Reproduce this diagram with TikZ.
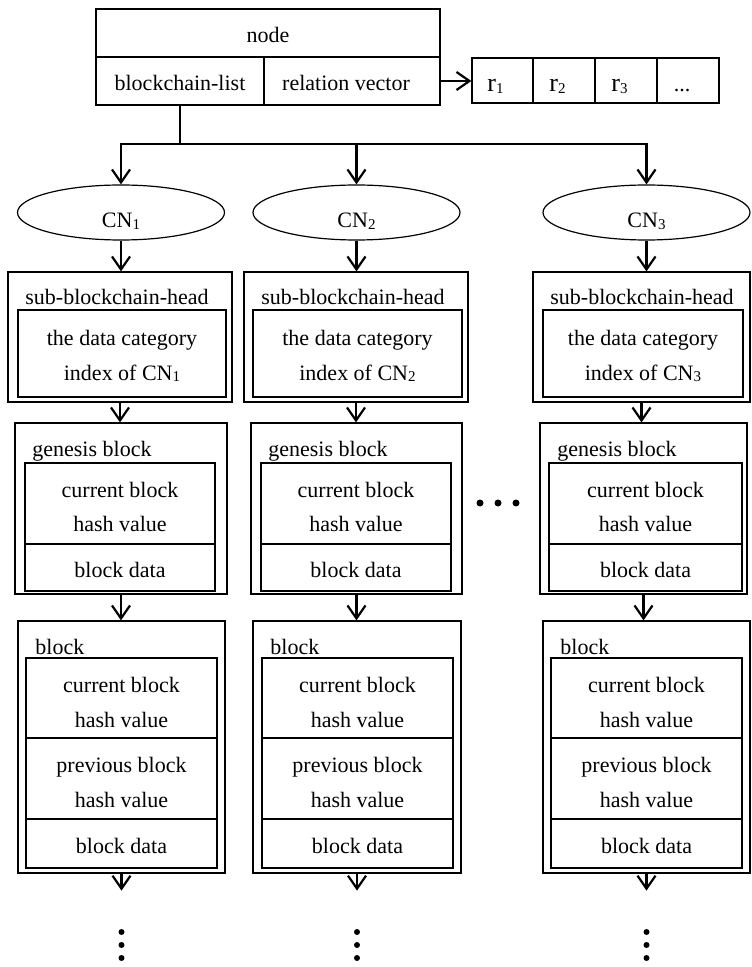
\documentclass[tikz,border=0pt]{standalone}
\usepackage{fontspec}
\setmainfont{Liberation Serif}
\usetikzlibrary{arrows.meta,shapes.geometric}

% small index digit that sits almost on the baseline
\newcommand\subidx[1]{\raisebox{-0.6pt}{\fontsize{7.5}{9}\selectfont #1}}
% rectangle node given by its corner coordinates (x1,y1) and (x2,y2)
\newcommand\pxbox[5]{\node[boxshape, minimum width={(#4-(#2))*0.5pt},
  minimum height={(#5-(#3))*0.5pt}] (#1) at ({(#2+#4)/2},{(#3+#5)/2}) {};}

\begin{document}
\begin{tikzpicture}[x=0.5pt,y=-0.5pt,
  boxshape/.style={draw, rectangle, line width=0.6pt, inner sep=0pt},
  cnshape/.style={draw, ellipse, line width=0.6pt, inner sep=0pt,
    minimum width=103.5pt, minimum height=27.5pt},
  txt/.style={inner sep=0pt, align=center, font=\fontsize{11}{17.25}\selectfont},
  rtxt/.style={inner sep=0pt, font=\fontsize{13}{15}\selectfont},
  trunk/.style={line width=1.1pt},
  arr/.style={line width=1.1pt, -{Straight Barb[length=6.5pt,width=9pt]}},
  dotshape/.style={circle, fill, inner sep=0pt, minimum size=3pt},
  bigdot/.style={circle, fill, inner sep=0pt, minimum size=3.5pt}]
\useasboundingbox (0,0) rectangle (751,967);

% node record
\pxbox{nodecell}{96}{9}{440}{57}
\pxbox{blcell}{96}{57}{264}{105}
\pxbox{rvcell}{264}{57}{440}{105}
\node[txt, anchor=base] (nodet) at (268,43) {node};
\node[txt, anchor=base] (blt) at (180,91) {blockchain-list};
\node[txt, anchor=base] (rvt) at (346,91) {relation vector};

% relation vector cells
\foreach \i/\a/\b in {1/472/533, 2/533/595, 3/595/657, 4/657/719}
  {\pxbox{r\i}{\a}{58}{\b}{103}}
\foreach \i/\xx in {1/495.5, 2/557.5, 3/619.5}
  {\node[rtxt, anchor=base] (rt\i) at (\xx,92) {r\subidx{\i}};}
\node[txt, anchor=base] (rt4) at (682,92) {...};
\draw[arr] (rvcell.east) -- (rvcell.east -| r1.west);

% branching from the blockchain list
\coordinate (split) at (180,144);
\draw[trunk] (blcell.south) -- (split);

% one sub-blockchain per category node
\foreach \col/\ex/\hl/\hr/\hil/\hir/\gl/\gr/\gil/\gir/\bl/\br/\bil/\bir in {
    1/121/8/232/18/226/15/227/25/215/18/225/26/217,
    2/356.5/244/468/253/462/251/462/261/451/253/461/262/453,
    3/646.5/533/750/543/743/540/747/549/742/543/750/551/742} {
  % category node
  \node[cnshape] (cn\col) at (\ex,212.5) {};
  \node[txt, anchor=base] (cnt\col) at (\ex,228) {CN\subidx{\col}};
  \draw[arr] (split) -| (cn\col.north);

  % sub-blockchain head
  \pxbox{head\col}{\hl}{272}{\hr}{402}
  \pxbox{headin\col}{\hil}{310}{\hir}{397}
  \node[txt, anchor=base west] (headt\col) at (\hl+17,305) {sub-blockchain-head};
  \node[txt] (headint\col) at ({(\hil+\hir)/2},355.8)
    {the data category\\index of CN\subidx{\col}};
  \draw[arr] (cn\col.south) -- (cn\col.south |- head\col.north);

  % genesis block
  \pxbox{gen\col}{\gl}{423}{\gr}{594}
  \pxbox{genhash\col}{\gil}{463}{\gir}{544}
  \pxbox{gendata\col}{\gil}{544}{\gir}{591}
  \node[txt, anchor=base west] (gent\col) at (\gl+17,456) {genesis block};
  \node[txt] (genhasht\col) at ({(\gil+\gir)/2},507) {current block\\hash value};
  \node[txt, anchor=base] (gendatat\col) at ({(\gil+\gir)/2},577) {block data};
  \draw[arr] (head\col.south) -- (head\col.south |- gen\col.north);

  % ordinary block
  \pxbox{blk\col}{\bl}{621}{\br}{873}
  \pxbox{blkcur\col}{\bil}{658}{\bir}{738}
  \pxbox{blkprev\col}{\bil}{738}{\bir}{819}
  \pxbox{blkdata\col}{\bil}{819}{\bir}{868}
  \node[txt, anchor=base west] (blkt\col) at (\bl+17,654) {block};
  \node[txt] (blkcurt\col) at ({(\bil+\bir)/2},702.5) {current block\\hash value};
  \node[txt] (blkprevt\col) at ({(\bil+\bir)/2},782.5) {previous block\\hash value};
  \node[txt, anchor=base] (blkdatat\col) at ({(\bil+\bir)/2},853) {block data};
  \draw[arr] (gen\col.south) -- (gen\col.south |- blk\col.north);

  % continuation of the chain
  \path (blk\col.south) ++(0,17) coordinate (cont\col);
  \draw[arr] (blk\col.south) -- (cont\col);
  \foreach \yy [count=\n] in {932,945,958}
    {\node[dotshape] (vd\col-\n) at ({(\bl+\br)/2},\yy) {};}
}

% further sub-blockchains between the second and the third
\foreach \xx [count=\n] in {480,498,516}
  {\node[bigdot] (hd\n) at (\xx,503) {};}
\end{tikzpicture}
\end{document}
